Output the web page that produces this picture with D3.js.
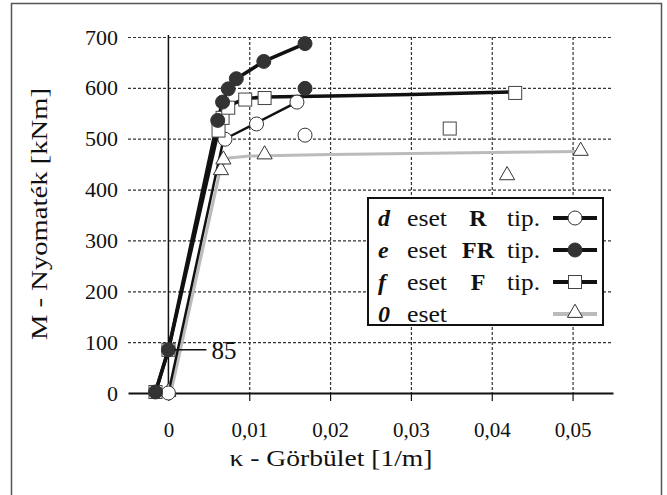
<!DOCTYPE html>
<html>
<head>
<meta charset="utf-8">
<script src="https://cdn.jsdelivr.net/npm/d3@7"></script>
<style>
  body { margin: 0; background: #fff; }
  svg text { font-family: 'Liberation Serif', 'DejaVu Serif'; fill: #111; }
</style>
</head>
<body>
<div id="chart"></div>
<script>
// values: [kappa (1/m), M (kNm)]
var xTicks = [0, 0.01, 0.02, 0.03, 0.04, 0.05];
var yTicks = [0, 100, 200, 300, 400, 500, 600, 700];

// d eset, R tip. (open circles)
var dLine = [[0, 0], [0.0068, 498], [0.0159, 572]];
var dPoints = [[0, 0], [0.0070, 499], [0.0109, 529], [0.0159, 572], [0.0169, 507]];

// e eset, FR tip. (filled circles)
var eLine = [[-0.0016, 2], [0, 85], [0.0061, 536], [0.0067, 572], [0.0074, 598], [0.0084, 618], [0.0118, 652], [0.0169, 687]];
var ePoints = [[-0.0016, 2], [0, 85], [0.0061, 536], [0.0067, 572], [0.0074, 598], [0.0084, 618], [0.0118, 652], [0.0169, 687], [0.0169, 599]];

// f eset, F tip. (open squares)
var fLine = [[-0.0016, 2], [0, 85], [0.0062, 518], [0.0067, 545], [0.0075, 565], [0.0095, 579], [0.012, 582], [0.02, 584], [0.03, 587], [0.043, 592]];
var fPoints = [[-0.0016, 2], [0, 85], [0.0062, 516], [0.0067, 541], [0.0074, 561], [0.0095, 577], [0.0119, 580], [0.0348, 520], [0.0429, 590]];

// 0 eset (triangles, grey line)
var zLine = [[0.0003, 0], [0.0065, 445], [0.0075, 462], [0.010, 466], [0.020, 469], [0.030, 471], [0.040, 473], [0.051, 475]];
var zPoints = [[0, 0], [0.0065, 436], [0.0068, 457], [0.0119, 467], [0.0419, 426], [0.0510, 474]];

var annotation = { k: 0, m: 85, label: "85" };

var legendRows = [
    { key: "d", type: "R", tip: true, marker: "circle", fill: "#fff", line: "#111" },
    { key: "e", type: "FR", tip: true, marker: "circle", fill: "#333", line: "#111" },
    { key: "f", type: "F", tip: true, marker: "square", fill: "#fff", line: "#111" },
    { key: "0", type: "", tip: false, marker: "triangle", fill: "#fff", line: "#bbb" }
];

var serif = "'Liberation Serif', 'DejaVu Serif'";

var width = 667, height = 495;
var svg = d3.select("#chart").append("svg")
    .attr("width", width)
    .attr("height", height);

// outer frame
svg.append("rect")
    .attr("x", 11.5).attr("y", 3.5)
    .attr("width", 650).attr("height", 500)
    .attr("fill", "none").attr("stroke", "#555").attr("stroke-width", 1.5);

var x = d3.scaleLinear().domain([-0.005, 0.055]).range([128, 613]);
var y = d3.scaleLinear().domain([0, 700]).range([393, 37]);

var fmt = function (v) { return v === 0 ? "0" : String(v).replace(".", ","); };

// grid
svg.append("g").selectAll("line")
    .data(yTicks.filter(function (d) { return d > 0; }))
    .enter().append("line")
    .attr("x1", x.range()[0]).attr("x2", x.range()[1])
    .attr("y1", function (d) { return y(d) + 0.5; })
    .attr("y2", function (d) { return y(d) + 0.5; })
    .attr("stroke", "#333").attr("stroke-width", 1.2).attr("stroke-dasharray", "3,2");

svg.append("g").selectAll("line")
    .data(xTicks.filter(function (d) { return d > 0; }))
    .enter().append("line")
    .attr("x1", function (d) { return x(d) + 0.5; })
    .attr("x2", function (d) { return x(d) + 0.5; })
    .attr("y1", y(700)).attr("y2", y(0))
    .attr("stroke", "#333").attr("stroke-width", 1.2).attr("stroke-dasharray", "3,2");

// kappa = 0 line
svg.append("line")
    .attr("x1", x(0)).attr("x2", x(0))
    .attr("y1", y(700) - 2).attr("y2", y(0))
    .attr("stroke", "#111").attr("stroke-width", 1.5);

// X axis
var xAxis = svg.append("g")
    .attr("transform", "translate(0," + y(0) + ")")
    .call(d3.axisBottom(x).tickValues(xTicks).tickFormat(fmt).tickSize(8).tickSizeOuter(0).tickPadding(21))
    .attr("font-family", serif);
xAxis.select(".domain").attr("stroke", "#111").attr("stroke-width", 1.8);
xAxis.selectAll(".tick line").attr("stroke", "#111").attr("stroke-width", 1.2);
xAxis.selectAll("text").attr("font-size", 21).attr("fill", "#111").attr("font-family", serif);

// Y axis
var yAxis = svg.append("g")
    .attr("transform", "translate(" + x.range()[0] + ",0)")
    .call(d3.axisLeft(y).tickValues(yTicks).tickSize(0).tickPadding(10))
    .attr("font-family", serif);
yAxis.select(".domain").remove();
yAxis.selectAll("text").attr("font-size", 22).attr("fill", "#111").attr("font-family", serif);

// axis titles
svg.append("text")
    .attr("x", 331).attr("y", 466)
    .attr("text-anchor", "middle").attr("font-size", 23).attr("font-family", serif)
    .attr("textLength", 203).attr("lengthAdjust", "spacingAndGlyphs")
    .text("κ - Görbület [1/m]");

svg.append("text")
    .attr("transform", "translate(47,214) rotate(-90)")
    .attr("text-anchor", "middle").attr("font-size", 23).attr("font-family", serif)
    .attr("textLength", 252).attr("lengthAdjust", "spacingAndGlyphs")
    .text("M - Nyomaték [kNm]");

// series lines
var line = d3.line()
    .x(function (d) { return x(d[0]); })
    .y(function (d) { return y(d[1]); });

svg.append("path").datum(zLine).attr("d", line)
    .attr("fill", "none").attr("stroke", "#bbb").attr("stroke-width", 3);
svg.append("path").datum(dLine).attr("d", line)
    .attr("fill", "none").attr("stroke", "#111").attr("stroke-width", 2.5);
svg.append("path").datum(fLine).attr("d", line)
    .attr("fill", "none").attr("stroke", "#111").attr("stroke-width", 3.5);
svg.append("path").datum(eLine).attr("d", line)
    .attr("fill", "none").attr("stroke", "#111").attr("stroke-width", 3.5);

// markers
var triangle = d3.symbol().type(d3.symbolTriangle).size(100);
function drawMarker(g, kind, fill) {
    if (kind === "circle") {
        g.append("circle").attr("r", 7)
            .attr("fill", fill).attr("stroke", "#333").attr("stroke-width", 1);
    } else if (kind === "square") {
        g.append("rect").attr("x", -6.5).attr("y", -6.5).attr("width", 13).attr("height", 13)
            .attr("fill", fill).attr("stroke", "#444").attr("stroke-width", 1);
    } else {
        g.append("path").attr("d", triangle).attr("transform", "translate(0,-1)")
            .attr("fill", fill).attr("stroke", "#333").attr("stroke-width", 1);
    }
}

function markers(data, kind, fill) {
    svg.append("g").selectAll("g")
        .data(data)
        .enter().append("g")
        .attr("transform", function (d) { return "translate(" + x(d[0]) + "," + y(d[1]) + ")"; })
        .each(function () { drawMarker(d3.select(this), kind, fill); });
}

markers(zPoints, "triangle", "#fff");
markers(dPoints, "circle", "#fff");
markers(fPoints, "square", "#fff");
markers(ePoints, "circle", "#333");

// 85 annotation
svg.append("line")
    .attr("x1", x(annotation.k) + 6).attr("x2", x(annotation.k) + 38)
    .attr("y1", y(annotation.m)).attr("y2", y(annotation.m))
    .attr("stroke", "#111").attr("stroke-width", 1.5);
svg.append("text")
    .attr("x", x(annotation.k) + 43).attr("y", y(annotation.m) + 9)
    .attr("font-size", 25).attr("font-family", serif)
    .text(annotation.label);

// legend
var legend = svg.append("g").attr("font-family", serif);
legend.append("rect")
    .attr("x", 368).attr("y", 198).attr("width", 235).attr("height", 127)
    .attr("fill", "#fff").attr("stroke", "#111").attr("stroke-width", 2);

legendRows.forEach(function (r, i) {
    var cy = 218 + i * 32;
    var base = cy + 8;
    legend.append("text").attr("x", 378).attr("y", base)
        .attr("font-size", 24).attr("font-weight", "bold").attr("font-style", "italic")
        .text(r.key);
    legend.append("text").attr("x", 407).attr("y", base)
        .attr("font-size", 24).attr("textLength", 40).attr("lengthAdjust", "spacingAndGlyphs")
        .text("eset");
    if (r.type) {
        legend.append("text").attr("x", 478).attr("y", base)
            .attr("text-anchor", "middle")
            .attr("font-size", 24).attr("font-weight", "bold").text(r.type);
    }
    if (r.tip) {
        legend.append("text").attr("x", 507).attr("y", base)
            .attr("font-size", 24).attr("textLength", 33).attr("lengthAdjust", "spacingAndGlyphs")
            .text("tip.");
    }
    legend.append("line")
        .attr("x1", 553).attr("x2", 597).attr("y1", cy).attr("y2", cy)
        .attr("stroke", r.line).attr("stroke-width", 4);
    var mg = legend.append("g").attr("transform", "translate(575," + cy + ")");
    drawMarker(mg, r.marker, r.fill);
});
</script>
</body>
</html>
